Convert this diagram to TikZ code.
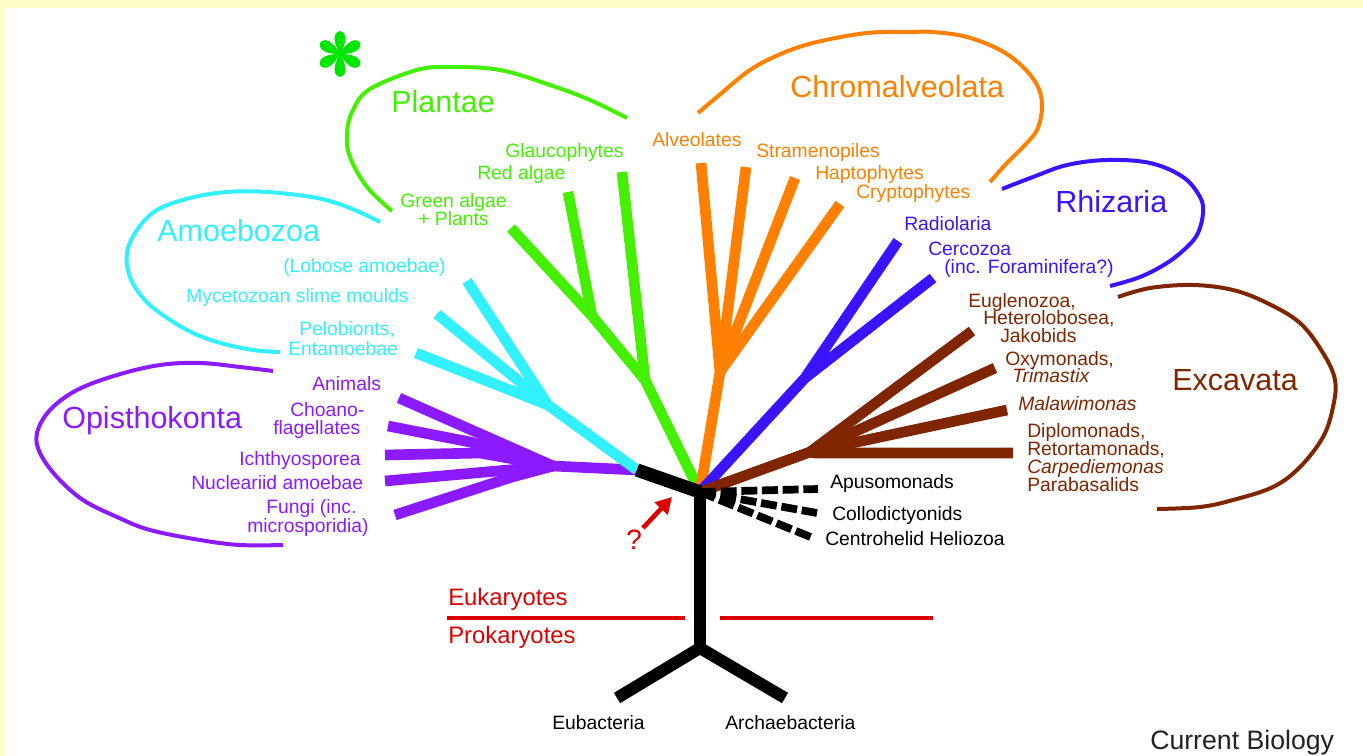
\documentclass[tikz,border=0pt]{standalone}
\usepackage{fontspec}
\setmainfont{Liberation Sans}
\usetikzlibrary{arrows.meta}
\definecolor{cgreen}{HTML}{44F000}
\definecolor{corange}{HTML}{FF8000}
\definecolor{ccyan}{HTML}{33F0FF}
\definecolor{cpurple}{HTML}{8C1AFF}
\definecolor{cblue}{HTML}{3A14FF}
\definecolor{cbrown}{HTML}{7F2600}
\definecolor{cred}{HTML}{DD0000}
\definecolor{bgyellow}{HTML}{FFFFCC}
\definecolor{asterg}{HTML}{00E600}
\definecolor{cbtext}{HTML}{222222}
\begin{document}
\begin{tikzpicture}[x=0.75pt,y=-0.75pt,
  branch/.style={line width=8pt, line join=round},
  trunk/.style={line width=9pt, black},
  dashline/.style={line width=5.8pt, black, dash pattern=on 12pt off 3.5pt},
  hull/.style={line width=3pt},
  lab/.style={anchor=base west, inner sep=0pt, font=\fontsize{14.5pt}{13.5pt}\selectfont},
  big/.style={anchor=base west, inner sep=0pt, font=\fontsize{22.9pt}{24pt}\selectfont},
  redlab/.style={anchor=base west, inner sep=0pt, text=cred, font=\fontsize{17.9pt}{19pt}\selectfont}
]
\useasboundingbox (0,0) rectangle (1363,756);
\fill[bgyellow] (0,0) rectangle (1363,756);
\fill[white] (6,8) rectangle (1363,756);

% ---------- coordinates ----------
\coordinate (R) at (700,492);
\coordinate (L) at (637,470);
% purple
\coordinate (PJ) at (553,466);
\coordinate (PAn) at (399,398);
\coordinate (PCh) at (388,426);
\coordinate (PChJ) at (470,442);
\coordinate (PIc) at (385,455);
\coordinate (PIcJ) at (480,453);
\coordinate (PNu) at (385,481);
\coordinate (PFu) at (395,515);
\coordinate (PFuJ) at (512,477);
% cyan
\coordinate (CJ) at (548,405);
\coordinate (CLo) at (467,281);
\coordinate (CMy) at (437,314);
\coordinate (CPe) at (416,353);
% green
\coordinate (GJ1) at (645,380);
\coordinate (GJ2) at (592,316);
\coordinate (GGl) at (622,172);
\coordinate (GRe) at (568,192);
\coordinate (GGr) at (511,228);
% orange
\coordinate (OJ) at (720,372);
\coordinate (OAl) at (701,163);
\coordinate (OSt) at (746,167);
\coordinate (OHa) at (795,178);
\coordinate (OCr) at (840,204);
% blue
\coordinate (BJ) at (805,378);
\coordinate (BRa) at (898,241);
\coordinate (BCe) at (933,278);
% brown
\coordinate (XJ) at (810,452);
\coordinate (XEu) at (972,331);
\coordinate (XOx) at (995,368);
\coordinate (XMa) at (1007,410);
\coordinate (XDi) at (1013,453);
\coordinate (XDiJ) at (815,453);
% black
\coordinate (TB) at (700,648);
\coordinate (EuE) at (617,698);
\coordinate (ArE) at (785,698);
\coordinate (DAp) at (818,489);
\coordinate (DCo) at (817,513);
\coordinate (DCe) at (813,538);
% red
\coordinate (RL1) at (447,618);
\coordinate (RL2) at (685,618);
\coordinate (RL3) at (720,618);
\coordinate (RL4) at (933,618);
\coordinate (QA) at (643,528);
\coordinate (QB) at (672,497);
\coordinate (AST) at (340,54);

% ---------- hulls ----------
\draw[hull,cgreen] plot[smooth,tension=0.6] coordinates {(392,211) (367,187) (350,157) (347,133) (353,110) (370,89) (417,70) (450,67) (500,70) (550,85) (590,100) (627,118)};
\draw[hull,corange] plot[smooth,tension=0.6] coordinates {(698,113) (717,97) (750,70) (783,53) (817,42) (867,33) (910,32) (933,32) (967,37) (1000,50) (1023,67) (1038,87) (1042,107) (1037,130) (1023,147) (1007,163) (990,182)};
\draw[hull,cblue] plot[smooth,tension=0.6] coordinates {(1002,189) (1033,177) (1067,165) (1107,160) (1150,163) (1183,177) (1200,197) (1203,213) (1198,233) (1187,247) (1167,263) (1140,277) (1110,286)};
\draw[hull,cbrown] plot[smooth,tension=0.6] coordinates {(1118,297) (1150,288) (1193,285) (1233,290) (1267,303) (1300,323) (1323,353) (1335,380) (1333,407) (1323,437) (1300,467) (1273,487) (1233,500) (1200,507) (1157,509)};
\draw[hull,ccyan] plot[smooth,tension=0.6] coordinates {(380,222) (350,208) (317,198) (267,192) (227,192) (190,198) (157,210) (137,230) (127,253) (130,277) (143,298) (160,313) (187,330) (217,342) (253,350) (280,352)};
\draw[hull,cpurple] plot[smooth,tension=0.6] coordinates {(273,371) (240,367) (200,363) (160,365) (117,375) (77,390) (50,410) (37,433) (40,453) (57,477) (83,500) (117,517) (150,530) (200,540) (240,545) (283,545)};

% asterisk (six teardrop petals)
\foreach \a in {30,90,150,210,270,330}{
  \begin{scope}[shift={(AST)}, rotate=\a]
    \fill[asterg] (0,0) .. controls (5pt,3pt) and (11pt,5.2pt) .. (14.5pt,3.6pt)
      .. controls (18pt,2pt) and (18pt,-2pt) .. (14.5pt,-3.6pt)
      .. controls (11pt,-5.2pt) and (5pt,-3pt) .. (0,0) -- cycle;
  \end{scope}
}
\fill[asterg] (AST) circle (2.6pt);

% ---------- branches ----------
\draw[branch,cpurple] (PAn) -- (PJ) -- (L);
\draw[branch,cpurple] (PCh) -- (PChJ) -- (PJ);
\draw[branch,cpurple] (PIc) -- (PIcJ) -- (PJ);
\draw[branch,cpurple] (PNu) -- (PJ);
\draw[branch,cpurple] (PFu) -- (PFuJ) -- (PJ);

\draw[branch,ccyan] (CLo) -- (CJ) -- (L);
\draw[branch,ccyan] (CMy) -- (CJ);
\draw[branch,ccyan] (CPe) -- (CJ);

\draw[branch,cgreen] (GGr) -- (GJ2) -- (GJ1) -- (R);
\draw[branch,cgreen] (GRe) -- (GJ2);
\draw[branch,cgreen] (GGl) -- (GJ1);

\draw[branch,corange] (OAl) -- (OJ) -- (R);
\draw[branch,corange] (OSt) -- (OJ);
\draw[branch,corange] (OHa) -- (OJ);
\draw[branch,corange] (OCr) -- (OJ);

\draw[branch,cblue] (BRa) -- (BJ) -- (R);
\draw[branch,cblue] (BCe) -- (BJ);

\draw[branch,cbrown] (XEu) -- (XJ) -- (R);
\draw[branch,cbrown] (XOx) -- (XJ);
\draw[branch,cbrown] (XMa) -- (XJ);
\draw[branch,cbrown] (XDi) -- (XDiJ) -- (XJ);

% black
\draw[trunk,line width=10pt] (L) -- (R);
\draw[trunk] (R) -- (TB);
\draw[trunk,line join=miter] (EuE) -- (TB) -- (ArE);
\draw[dashline] (R) -- (DAp);
\draw[dashline] (R) -- (DCo);
\draw[dashline] (R) -- (DCe);

% red
\draw[cred,line width=3pt] (RL1) -- (RL2);
\draw[cred,line width=3pt] (RL3) -- (RL4);
\draw[cred,line width=3.5pt,-{Triangle[length=12pt,width=13pt]}] (QA) -- (QB);

% ---------- labels ----------
\node[big,text=cgreen] (tPl) at (391,113) {Plantae};
\node[lab,text=cgreen] (tGl) at (505,157) {Glaucophytes};
\node[lab,text=cgreen] (tRe) at (477,180) {Red algae};
\node[lab,text=cgreen] (tGr1) at (400,208) {Green algae};
\node[lab,text=cgreen] (tGr2) at (418,225) {+ Plants};

\node[big,text=corange] (tCh) at (790,98) {Chromalveolata};
\node[lab,text=corange] (tAl) at (652,147) {Alveolates};
\node[lab,text=corange] (tSt) at (756,157) {Stramenopiles};
\node[lab,text=corange] (tHa) at (815,180) {Haptophytes};
\node[lab,text=corange] (tCr) at (856,199) {Cryptophytes};

\node[big,text=cblue] (tRh) at (1055,213) {Rhizaria};
\node[lab,text=cblue] (tRa) at (904,230) {Radiolaria};
\node[lab,text=cblue] (tCe) at (928,255) {Cercozoa};
\node[lab,text=cblue] (tFo) at (944,273) {(inc. Foraminifera?)};

\node[big,text=cbrown] (tEx) at (1172,390) {Excavata};
\node[lab,text=cbrown] (tEu) at (968,307) {Euglenozoa,};
\node[lab,text=cbrown] (tHe) at (983,324) {Heterolobosea,};
\node[lab,text=cbrown] (tJa) at (1000,342) {Jakobids};
\node[lab,text=cbrown] (tOx) at (1005,365) {Oxymonads,};
\node[lab,text=cbrown] (tTr) at (1012,382) {\itshape Trimastix};
\node[lab,text=cbrown] (tMa) at (1018,410) {\itshape Malawimonas};
\node[lab,text=cbrown] (tDi) at (1027,437) {Diplomonads,};
\node[lab,text=cbrown] (tRt) at (1027,455) {Retortamonads,};
\node[lab,text=cbrown] (tCa) at (1027,473) {\itshape Carpediemonas};
\node[lab,text=cbrown] (tPa) at (1027,491) {Parabasalids};

\node[lab] (tAp) at (830,488) {Apusomonads};
\node[lab] (tCo) at (832,520) {Collodictyonids};
\node[lab] (tCz) at (825,545) {Centrohelid Heliozoa};
\node[lab] (tEb) at (552,729) {Eubacteria};
\node[lab] (tAr) at (725,729) {Archaebacteria};
\node[anchor=base west,inner sep=0pt,text=cbtext,font=\fontsize{20pt}{20pt}\selectfont] (tCB) at (1150,749) {Current Biology};

\node[big,text=ccyan] (tAm) at (157,241) {Amoebozoa};
\node[lab,text=ccyan] (tLo) at (283,272) {(Lobose amoebae)};
\node[lab,text=ccyan] (tMy) at (186,302) {Mycetozoan slime moulds};
\node[lab,text=ccyan] (tPe) at (299,335) {Pelobionts,};
\node[lab,text=ccyan] (tEn) at (288,355) {Entamoebae};

\node[big,text=cpurple] (tOp) at (62,428) {Opisthokonta};
\node[lab,text=cpurple] (tAn) at (312,390) {Animals};
\node[lab,text=cpurple] (tCh1) at (290,416) {Choano-};
\node[lab,text=cpurple] (tCh2) at (273,434) {flagellates};
\node[lab,text=cpurple] (tIc) at (239,465) {Ichthyosporea};
\node[lab,text=cpurple] (tNu) at (191,489) {Nucleariid amoebae};
\node[lab,text=cpurple] (tFu1) at (266,513) {Fungi (inc.};
\node[lab,text=cpurple] (tFu2) at (247,532) {microsporidia)};

\node[redlab] (tEk) at (448,605) {Eukaryotes};
\node[redlab] (tPk) at (448,643) {Prokaryotes};
\node[anchor=base west,inner sep=0pt,text=cred,font=\fontsize{21pt}{22pt}\selectfont] (tQ) at (626,549) {?};
\end{tikzpicture}
\end{document}
